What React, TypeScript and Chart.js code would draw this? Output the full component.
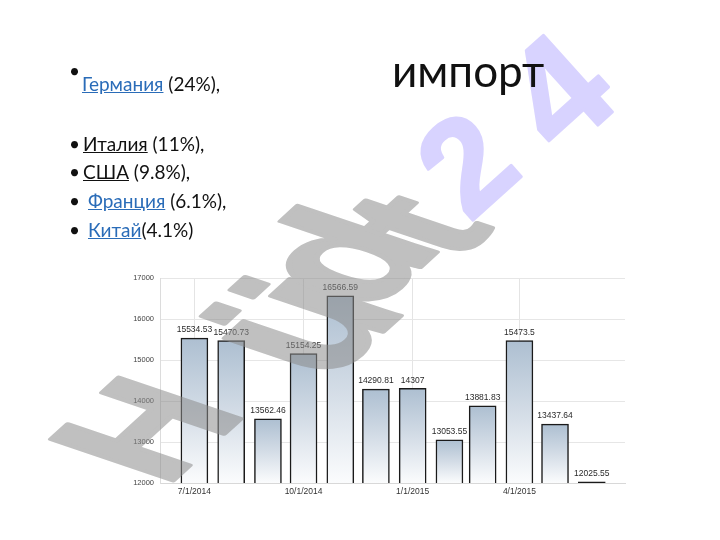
import React, { useEffect, useRef } from 'react';
import { Chart, registerables } from 'chart.js';

Chart.register(...registerables);

// ---- data ----
const months = [
  '2014-07-01', '2014-08-01', '2014-09-01', '2014-10-01', '2014-11-01', '2014-12-01',
  '2015-01-01', '2015-02-01', '2015-03-01', '2015-04-01', '2015-05-01', '2015-06-01',
];
const values = [
  15534.53, 15470.73, 13562.46, 15154.25, 16566.59, 14290.81,
  14307, 13053.55, 13881.83, 15473.5, 13437.64, 12025.55,
];
const tickDates = ['2014-07-01', '2014-10-01', '2015-01-01', '2015-04-01'];
const tickLabels = ['7/1/2014', '10/1/2014', '1/1/2015', '4/1/2015'];
const yMin = 12000;
const yMax = 17000;
const yStep = 1000;

const titleText = 'импорт';
const bulletNames = ['Германия', 'Италия', 'США', 'Франция', 'Китай'];
const bulletShares = [' (24%),', ' (11%),', ' (9.8%),', ' (6.1%),', '(4.1%)'];
const bulletIsLink = [true, false, false, true, true];

// decorative watermark glyphs
const wmGrayGlyphs = ['H', 'ü', 'd', 't'];
const wmGrayX = [143, 293, 338, 412];
const wmGrayY = [428, 320, 256, 223];
const wmGraySize = [100, 118, 108, 100];
const wmPurpleGlyphs = ['2', '4'];
const wmPurpleX = [465, 556];
const wmPurpleY = [162, 90];
const wmPurpleSize = [135, 150];

const DAY = 86400000;
const baseTime = Date.parse(months[0]);
const toDay = (s: string) => Math.round((Date.parse(s) - baseTime) / DAY);

const valueLabelsPlugin = {
  id: 'valueLabels',
  afterDatasetsDraw(chart: any) {
    const ctx = chart.ctx;
    const meta = chart.getDatasetMeta(0);
    ctx.save();
    ctx.font = '8.5px "Liberation Sans", Arial, sans-serif';
    ctx.fillStyle = '#2a2a2a';
    ctx.textAlign = 'center';
    ctx.textBaseline = 'bottom';
    meta.data.forEach((el: any, i: number) => {
      ctx.fillText(String(values[i]), el.x, el.y - 4);
    });
    ctx.restore();
  },
};

const watermarkPlugin = {
  id: 'watermark',
  afterDraw(chart: any) {
    const ctx = chart.ctx;
    const off = document.createElement('canvas');
    off.width = chart.width;
    off.height = chart.height;
    const o = off.getContext('2d') as CanvasRenderingContext2D;
    o.textAlign = 'center';
    o.textBaseline = 'alphabetic';
    o.lineJoin = 'round';
    o.fillStyle = 'rgb(140,140,140)';
    o.strokeStyle = 'rgb(140,140,140)';
    o.lineWidth = 3;
    const A = 1.15, B = -1.05, C = 1.77, D = 0.6;
    wmGrayGlyphs.forEach((g, i) => {
      const size = wmGraySize[i];
      const yc = size * 0.36;
      o.font = `bold ${size}px "Liberation Sans", Arial, sans-serif`;
      o.setTransform(A, B, C, D, wmGrayX[i] + yc * C, wmGrayY[i] + yc * D);
      o.fillText(g, 0, 0);
      o.strokeText(g, 0, 0);
    });
    o.fillStyle = 'rgb(185,175,255)';
    o.strokeStyle = 'rgb(185,175,255)';
    const ang = (-42 * Math.PI) / 180;
    const ca = Math.cos(ang), sa = Math.sin(ang);
    wmPurpleGlyphs.forEach((g, i) => {
      const size = wmPurpleSize[i];
      const yc2 = size * 0.36;
      o.font = `bold ${size}px "Liberation Sans", Arial, sans-serif`;
      const ox = wmPurpleX[i] - yc2 * sa;
      const oy = wmPurpleY[i] + yc2 * ca;
      o.setTransform(ca, sa, -sa, ca, ox, oy);
      o.fillText(g, 0, 0);
      o.strokeText(g, 0, 0);
    });
    ctx.save();
    ctx.setTransform(1, 0, 0, 1, 0, 0);
    ctx.globalAlpha = 0.55;
    ctx.drawImage(off, 0, 0);
    ctx.restore();
  },
};

export default function App() {
  const canvasRef = useRef<HTMLCanvasElement | null>(null);

  useEffect(() => {
    const canvas = canvasRef.current;
    if (!canvas) return;
    const points = values.map((v, i) => ({ x: toDay(months[i]), y: v }));
    const tickDays = tickDates.map(toDay);

    const chart = new Chart(canvas, {
      type: 'bar',
      data: {
        datasets: [
          {
            data: points as any,
            barThickness: 27,
            borderColor: '#1a1a1a',
            borderWidth: 1.5,
            backgroundColor: (c: any) => {
              const ch = c.chart;
              const area = ch.chartArea;
              if (!area || c.type !== 'data' || !c.raw) return '#c8d3de';
              const top = ch.scales.y.getPixelForValue(c.raw.y);
              const g = ch.ctx.createLinearGradient(0, top, 0, area.bottom);
              g.addColorStop(0, '#adbfd1');
              g.addColorStop(0.5, '#d3dce6');
              g.addColorStop(1, '#fbfcfd');
              return g;
            },
          },
        ],
      },
      options: {
        animation: false,
        responsive: false,
        maintainAspectRatio: false,
        layout: { padding: { left: 128, right: 95, top: 278, bottom: 35 } },
        plugins: {
          legend: { display: false },
          tooltip: { enabled: false },
        },
        scales: {
          x: {
            type: 'linear',
            offset: false,
            min: -29,
            max: 363,
            afterBuildTicks: (scale: any) => {
              scale.ticks = tickDays.map((d) => ({ value: d }));
            },
            afterFit: (scale: any) => {
              scale.height = 22;
            },
            ticks: {
              callback: (_v: any, i: number) => tickLabels[i],
              font: { size: 8.5, family: '"Liberation Sans", Arial, sans-serif' },
              color: '#333',
              padding: 4,
              maxRotation: 0,
              autoSkip: false,
            },
            grid: { color: '#e4e4e4', drawTicks: false, offset: false },
            border: { color: '#d8d8d8' },
          },
          y: {
            min: yMin,
            max: yMax,
            afterFit: (scale: any) => {
              scale.width = 32;
            },
            ticks: {
              stepSize: yStep,
              callback: (v: any) => String(v),
              font: { size: 7.5, family: '"Liberation Sans", Arial, sans-serif' },
              color: '#444',
              padding: 6,
            },
            grid: { color: '#e6e6e6', drawTicks: false },
            border: { color: '#dcdcdc' },
          },
        },
      },
      plugins: [valueLabelsPlugin, watermarkPlugin],
    } as any);

    return () => chart.destroy();
  }, []);

  const textFont = 'Lato, "Open Sans", sans-serif';
  const tops = [72, 132, 160, 189, 218];
  const textLeft = [82, 83, 83, 88, 88];

  return (
    <div
      style={{
        position: 'fixed',
        left: 0,
        top: 0,
        width: 720,
        height: 540,
        background: '#fff',
        overflow: 'hidden',
      }}
    >
      <canvas
        ref={canvasRef}
        width={720}
        height={540}
        style={{ position: 'absolute', left: 0, top: 0, width: 720, height: 540 }}
      />
      <div
        style={{
          position: 'absolute',
          left: 392,
          top: 48,
          fontFamily: textFont,
          fontSize: 44,
          lineHeight: '44px',
          color: '#111',
        }}
      >
        {titleText}
      </div>
      {bulletNames.map((name, i) => (
        <React.Fragment key={name}>
          <div
            style={{
              position: 'absolute',
              left: 69,
              top: i === 0 ? tops[i] - 13 : tops[i],
              fontFamily: textFont,
              fontSize: 19,
              lineHeight: '24px',
              color: '#111',
            }}
          >
            •
          </div>
          <div
            style={{
              position: 'absolute',
              left: textLeft[i],
              top: tops[i],
              fontFamily: textFont,
              fontSize: 19,
              lineHeight: '24px',
              color: '#111',
              whiteSpace: 'nowrap',
            }}
          >
            <span
              style={{
                color: bulletIsLink[i] ? '#2a6cb8' : '#111',
                textDecoration: 'underline',
              }}
            >
              {name}
            </span>
            {bulletShares[i]}
          </div>
        </React.Fragment>
      ))}
    </div>
  );
}
